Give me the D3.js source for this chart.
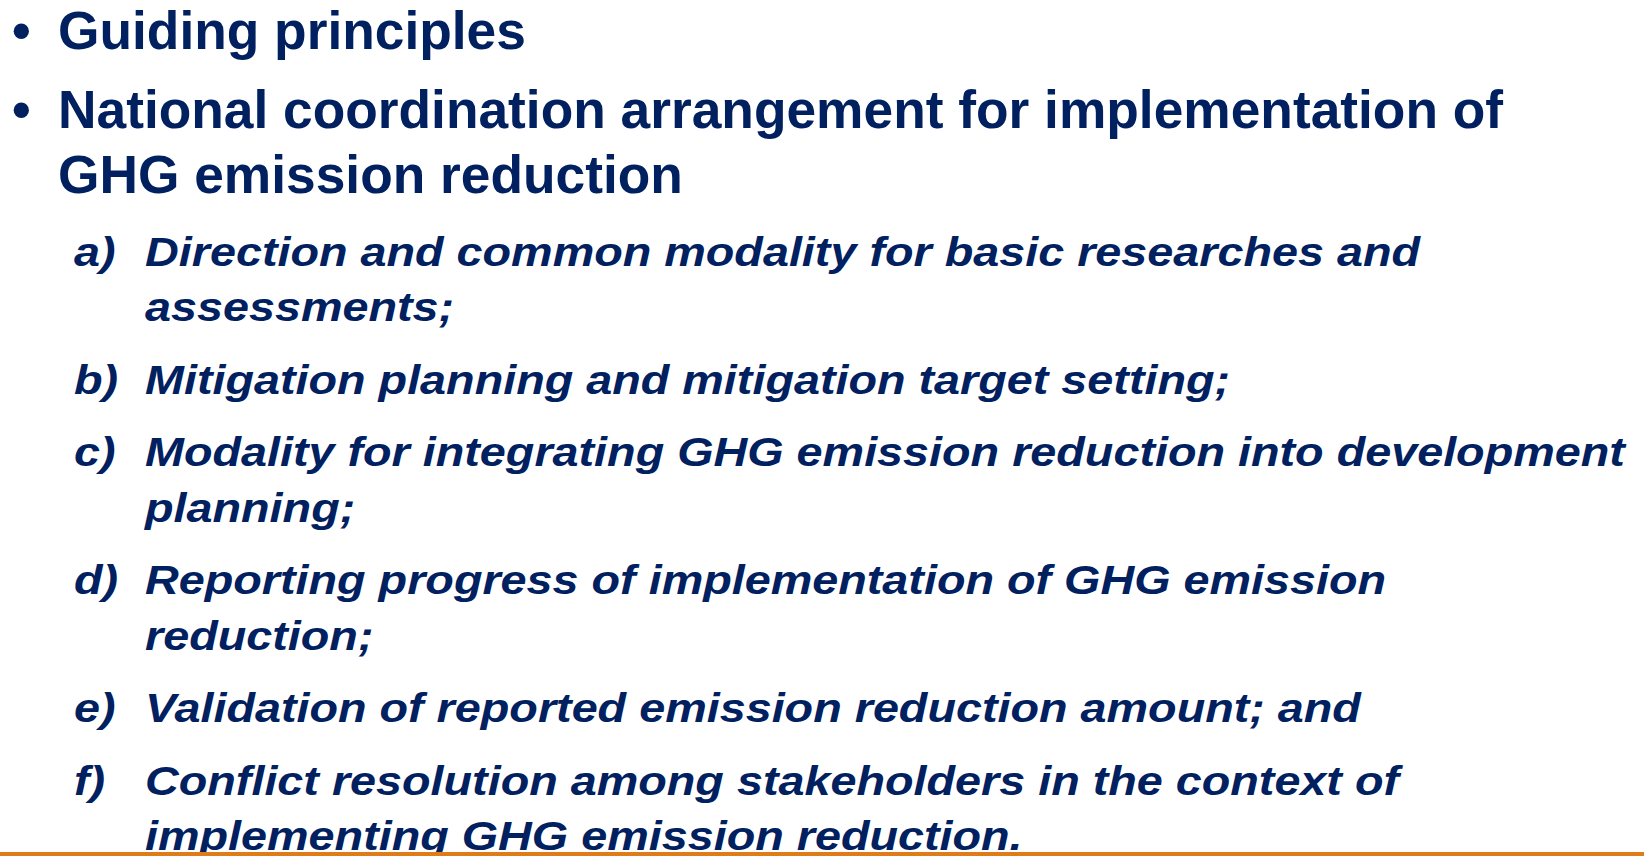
<!DOCTYPE html>
<html>
<head>
<meta charset="utf-8">
<style>
  body { margin: 0; background: #fff; }
  svg { display: block; }
</style>
</head>
<body>
<svg width="1644" height="856"></svg>
<script src="https://d3js.org/d3.v7.min.js"></script>
<script>

  // slide content
  var bullets = [
    ["Guiding principles"],
    ["National coordination arrangement for implementation of", "GHG emission reduction"]
  ];

  var itemLabels = ["a)", "b)", "c)", "d)", "e)", "f)"];

  var itemLines = [
    ["Direction and common modality for basic researches and", "assessments;"],
    ["Mitigation planning and mitigation target setting;"],
    ["Modality for integrating GHG emission reduction into development", "planning;"],
    ["Reporting progress of implementation of GHG emission", "reduction;"],
    ["Validation of reported emission reduction amount; and"],
    ["Conflict resolution among stakeholders in the context of", "implementing GHG emission reduction."]
  ];

  var svg = d3.select("svg"),
    width = +svg.attr("width"),
    height = +svg.attr("height"),
    navy = "#002060";

  svg.append("rect").attr("width", width).attr("height", height).attr("fill", "#fff");

  // flatten everything into rows, then place baselines
  var rows = [], y = 49;
  bullets.forEach(function (lines, i) {
    if (i > 0) y += 79;
    lines.forEach(function (t, j) {
      if (j > 0) y += 65;
      rows.push({kind: "top", mark: j === 0 ? "\u2022" : null, text: t, y: y});
    });
  });
  itemLines.forEach(function (lines, i) {
    y += 72.5;
    lines.forEach(function (t, j) {
      if (j > 0) y += 55.5;
      rows.push({kind: "item", mark: j === 0 ? itemLabels[i] : null, text: t, y: y});
    });
  });

  // the sub-items are set in a horizontally widened bold italic
  var style = {
    top:  {size: 53.3, italic: "normal", sx: 1,    markX: 12, textX: 58},
    item: {size: 41,   italic: "italic", sx: 1.14, markX: 74, textX: 145}
  };

  var g = svg.append("g")
    .attr("font-family", "'Liberation Sans', Arial, sans-serif")
    .attr("font-weight", "bold")
    .attr("fill", navy);

  var row = g.selectAll("g.row")
    .data(rows)
    .enter().append("g")
    .attr("class", "row")
    .attr("font-size", function (d) { return style[d.kind].size; })
    .attr("font-style", function (d) { return style[d.kind].italic; });

  row.filter(function (d) { return d.mark; })
    .append("text")
    .attr("transform", function (d) {
      var s = style[d.kind];
      return "translate(" + s.markX + "," + d.y + ") scale(" + s.sx + ",1)";
    })
    .text(function (d) { return d.mark; });

  row.append("text")
    .attr("transform", function (d) {
      var s = style[d.kind];
      return "translate(" + s.textX + "," + d.y + ") scale(" + s.sx + ",1)";
    })
    .text(function (d) { return d.text; });

  // orange rule along the bottom
  svg.append("rect")
    .attr("x", 0)
    .attr("y", 852)
    .attr("width", width)
    .attr("height", 4)
    .attr("fill", "#e07b1a");

</script>
</body>
</html>
